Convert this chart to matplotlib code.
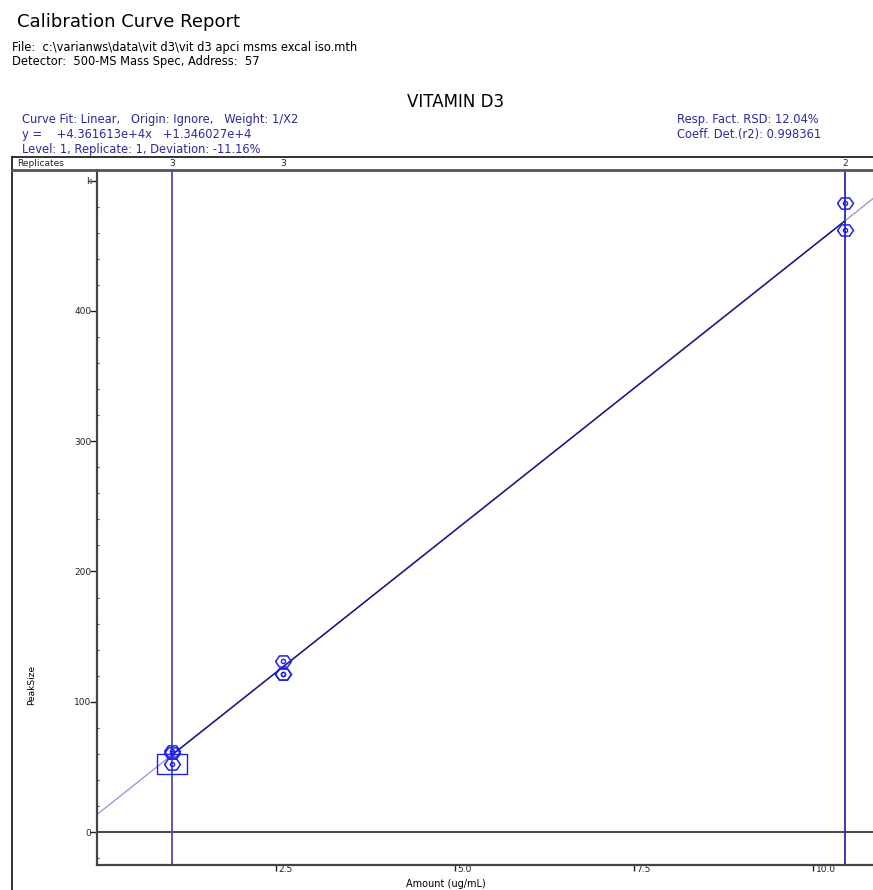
import numpy as np
import matplotlib
matplotlib.use('Agg')
import matplotlib.pyplot as plt
from matplotlib.lines import Line2D
from matplotlib.ticker import FixedLocator, MultipleLocator, FixedFormatter
import matplotlib.transforms as mtransforms

plt.rcParams['font.family'] = ['DejaVu Sans']

########################## data ##########################
levels = [1.05, 2.60, 10.45]          # ug/mL
replicates = [3, 3, 2]
amounts = [1.05, 1.05, 1.05, 2.60, 2.60, 2.60, 10.45, 10.45]
peak_k = [52.3, 62.2, 61.0, 131.0, 121.4, 121.0, 482.6, 462.0]   # peak size (k)
selected = 0                            # level 1, replicate 1
slope = 4.361613e4 / 1000
intercept = 1.346027e4 / 1000

x_ticks = [2.5, 5.0, 7.5, 10.0]
x_tick_labels = ['2.5', '5.0', '7.5', '10.0']
y_ticks = [0, 100, 200, 300, 400, 500]
y_tick_labels = ['0', '100', '200', '300', '400', 'k']

report_title = 'Calibration Curve Report'
file_line = 'File:  c:\\varianws\\data\\vit d3\\vit d3 apci msms excal iso.mth'
detector_line = 'Detector:  500-MS Mass Spec, Address:  57'
compound = 'VITAMIN D3'
fit_lines = ['Curve Fit: Linear,   Origin: Ignore,   Weight: 1/X2',
             'y =    +4.361613e+4x   +1.346027e+4',
             'Level: 1, Replicate: 1, Deviation: -11.16%']
stat_lines = ['Resp. Fact. RSD: 12.04%', 'Coeff. Det.(r2): 0.998361']

########################## layout helpers ##########################
W, H = 873, 890
fig = plt.figure(figsize=(W / 100, H / 100), dpi=100)


def fx(px):
    return px / W


def fy(py):
    return 1 - py / H


blue_txt = '#2a2a9c'
grey = '#444444'
mark = '#2020ee'

########################## header ##########################
fig.text(fx(17), fy(22), report_title, fontsize=13, va='center')
fig.text(fx(12), fy(47), file_line, fontsize=8.3, va='center')
fig.text(fx(12), fy(62), detector_line, fontsize=8.3, va='center')
fig.text(fx(456), fy(102), compound, fontsize=12, ha='center', va='center')
for i, s in enumerate(fit_lines):
    fig.text(fx(22), fy(120 + 14.5 * i), s, fontsize=8.3, color=blue_txt, va='center')
for i, s in enumerate(stat_lines):
    fig.text(fx(677), fy(120 + 14.5 * i), s, fontsize=8.3, color=blue_txt, va='center')

# outer frame
fig.add_artist(Line2D([fx(12), 1], [fy(157), fy(157)], color='#222222', lw=1.3))
fig.add_artist(Line2D([fx(12), fx(12)], [fy(157), 0], color='#222222', lw=1.3))
fig.add_artist(Line2D([fx(12), 1], [fy(170), fy(170)], color='#555555', lw=2))
fig.text(fx(17), fy(164), 'Replicates', fontsize=6.5, va='center', color='#222222')

########################## plot ##########################
ax = fig.add_axes([fx(97), fy(865), 1 - fx(97), fy(170) - fy(865)])
ax.set_xlim(0, 10.84)
ax.set_ylim(-25.3, 508.2)
for side in ['top', 'right']:
    ax.spines[side].set_visible(False)
for side in ['left', 'bottom']:
    ax.spines[side].set_color(grey)
    ax.spines[side].set_linewidth(1.6)

ax.xaxis.set_major_locator(FixedLocator(x_ticks))
ax.xaxis.set_major_formatter(FixedFormatter(x_tick_labels))
ax.yaxis.set_major_locator(FixedLocator(y_ticks))
ax.yaxis.set_major_formatter(FixedFormatter(y_tick_labels))
ax.yaxis.set_minor_locator(MultipleLocator(20))
ax.tick_params(axis='x', direction='out', length=4, width=1, color='#222222',
               labelsize=6.5, labelcolor='#222222', pad=-4)
ax.tick_params(axis='y', which='major', direction='out', length=5, width=1,
               color='#222222', labelsize=6.5, labelcolor='#222222', pad=-1)
ax.tick_params(axis='y', which='minor', direction='in', length=1.5, width=0.8,
               color=grey)
shift = mtransforms.ScaledTranslation(2 / 72, 0, fig.dpi_scale_trans)
for lab in ax.get_xticklabels():
    lab.set_ha('left')
    lab.set_transform(lab.get_transform() + shift)

ax.axhline(0, color=grey, lw=1.4)
ax.axvline(levels[0], color='#4b4bb5', lw=1.3)
ax.axvline(levels[-1], color='#2a2aa8', lw=1.3)

# fit line: light outside the calibration range, dark inside
xs = np.linspace(0, 10.84, 200)
ax.plot(xs, slope * xs + intercept, color='#9a9ad8', lw=1)
xd = np.linspace(min(levels), max(levels), 200)
ax.plot(xd, slope * xd + intercept, color='#1a1a80', lw=1.1)

hex_marker = [(-1, 0), (-0.5, 0.7), (0.5, 0.7), (1, 0), (0.5, -0.7), (-0.5, -0.7), (-1, 0)]
box_marker = [(-1, -0.67), (1, -0.67), (1, 0.67), (-1, 0.67), (-1, -0.67)]
ax.plot(amounts, peak_k, ls='none', marker=hex_marker, ms=11.5, mfc='none',
        mec=mark, mew=1.1)
ax.plot(amounts, peak_k, ls='none', marker='o', ms=3, mfc='none', mec=mark, mew=1)
ax.plot(amounts[selected], peak_k[selected], ls='none', marker=box_marker, ms=21.6,
        mfc='none', mec=mark, mew=1)

# replicate counts above each level
blend = mtransforms.blended_transform_factory(ax.transData, fig.transFigure)
for lv, n in zip(levels, replicates):
    ax.text(lv, fy(164), str(n), transform=blend, fontsize=6.5, ha='center',
            va='center', color='#222222', clip_on=False)

fig.text(fx(32), fy(685), 'PeakSize', rotation=90, fontsize=6.5, ha='center', va='center')
fig.text(fx(446), fy(889), 'Amount (ug/mL)', fontsize=7, ha='center', va='bottom')

fig.savefig('out.png', dpi=100)
